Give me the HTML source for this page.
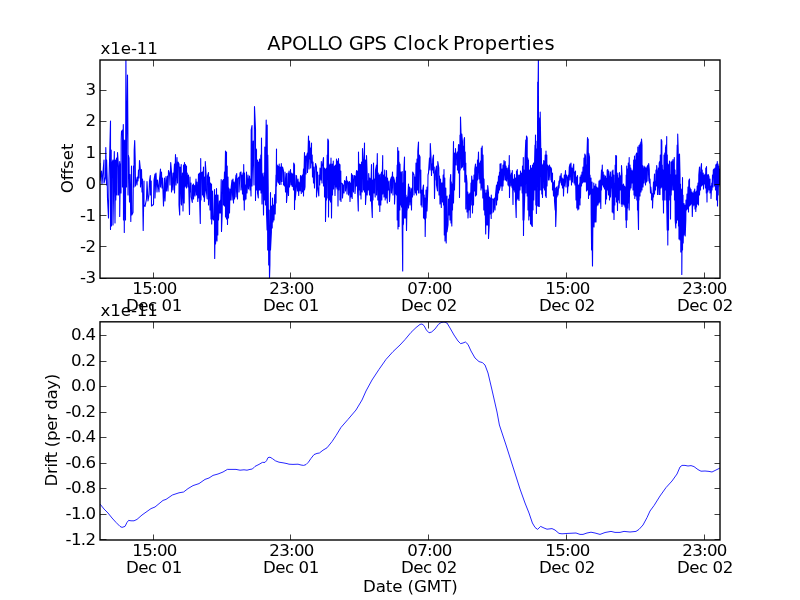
<!DOCTYPE html>
<html><head><meta charset="utf-8"><title>APOLLO GPS Clock Properties</title>
<style>html,body{margin:0;padding:0;background:#fff;overflow:hidden}svg{display:block;will-change:transform}text{font-family:"DejaVu Sans","Liberation Sans",sans-serif;fill:#000}.t{font-size:16.67px;letter-spacing:-0.45px}.n{font-size:16.67px;letter-spacing:-0.7px}.ti{font-size:19.44px}</style></head><body>
<svg width="800" height="600" viewBox="0 0 800 600">
<rect width="800" height="600" fill="#fff"/>
<defs><clipPath id="c1"><rect x="100" y="60" width="620" height="218.18"/></clipPath>
<clipPath id="c2"><rect x="100" y="321.82" width="620" height="218.18"/></clipPath></defs>
<path d="M100 163L100 181L101.5 171L102 184L104 160L104 183L105.5 177L105.8 147.5L106.5 185L106.6 160L107.2 180L107.5 198L108.5 218L109 180L109.7 155L110.5 121L110.5 229.5L111.2 150L111.5 226L112 163L113 160L113 225L114.3 151.5L115 223L115.5 160L115.8 200L116.5 158L117 195L117.5 152.5L118.5 167L118.5 195L119.7 161.5L119.7 216.5L120.5 164L121 193L121.2 140L121.5 131.5L122.5 130L122.5 187L123.3 124.5L123.5 220L124 140L124.3 232.5L124.6 149.5L125.2 140L125.5 220L125.9 55L126.5 187L126.6 143L127 124L127.5 75L127.9 130L128 195L128.3 155L129 158L129.5 202L130 174.5L130.8 221.5L131.5 166L131.8 215L133 212.5L133.5 166L134 187L134.2 150L134.7 140.5L135.2 160L135.5 186L135.7 177L137 185L137.5 177L138 181L138.5 170L139 178L139.5 160.5L140.5 171L140.5 187L141.5 169.5L142 192L142.5 179L142.8 205L143.2 230.5L143.6 205L144 181L144 205L145 206.5L146.5 199L147 181.5L148 201L149 195L149.5 181L150.3 175.5L150.5 195L151.2 181L151.5 206L153.5 204.5L154 180L155 174L155 198L156 173L157 192L157.5 180L159 192L159.5 179L160.5 169L160.5 187L161.5 172L162 188L162.5 178L163.5 206L164.5 178L165 201L166 176.5L166.5 191L167.5 176L168 191L168.5 170.5L169.5 174L170 185L170.7 162.5L171.5 172L171.5 192L173 173L173 190L174.5 164L174.5 193L175.5 154.5L176 185L177 157.5L177.5 183L178 162L179 164L179 205L179.7 215L180 167L180 170L180 204L181.2 164.5L181.5 205L182.5 173L183 211L183.5 165L184.2 203L184.5 162.5L185 187L185.5 164.5L186 186L186.5 166L186.5 188L187.2 173L188 187L188.5 175L188.8 189L189.5 214.5L190 177L190.2 192L191 183L191.2 197L192.3 202.5L192.5 185.5L193.5 184L193.5 199L194.5 185.5L195 196L196 179L196.5 195L197 182L197.8 201.5L198.5 174L199 198L199.5 173L199.7 203L200.3 223.5L200.7 158.5L201 200L201.5 173L202.5 172L202.5 195L203.5 167L203.5 197L204.3 177L204.3 201.5L205.2 190L205.3 161.5L206.2 176L206.2 190L207.2 199L207.5 176L208.5 172.5L208.5 205L209.5 177L210 210L210.5 183L211 219L211.5 184L211.7 224L212.5 191L212.5 218L213.5 220L214.5 189.5L214.5 233L214.7 258.5L215.5 195L215.5 244L216.2 236L216.5 188.5L217 241L217.2 195L217.8 235L218 195L218.5 220L219.5 201L219.5 213L220.5 200L220.5 213L221 190L221.2 179.5L221.5 231.5L222.2 213L222.5 181L223.5 179.5L223.5 205L224.5 172L224.5 206L225.5 151L225.5 217L226.5 152L226.5 219L227.2 166L227.5 224.5L228 177L228.5 218L228.7 188L229.5 213L230 189L230.5 200L231.2 187L232 180L232 200L233 179L233.5 203L234 182L234.5 199L235 185L236 175L236 197L236.7 173.5L237.5 199L237.8 179L239 177L239 192L240 173L241 172L241 190L242 175L242.5 194L243 173L243.5 200L243.7 164.5L244.3 210L244.5 173L245 200L245.5 185L246 199L246.5 172L247 193L248 175L248.5 189L249.5 176L250 190L250.5 179L251 196L251.2 130L252 125.5L252 186L253.2 141L254 185L254.5 106.5L255.5 129.5L255.5 200.5L256.2 149L256.5 150L256.5 190L257.5 160L257.5 193L258.3 198L258.5 162L259 190L259.5 159L260 160L260 188L260 160L260 190L260.8 155L261 193L261.5 138L262 204L262.2 173L263 178L263.5 215L264 173L264.5 200L264.8 147L265.5 205L265.8 146L266.2 120L266.5 213L267.1 230L267.2 125L267.7 250L267.8 155L268.2 187L268.7 265L269 210L269.5 278.5L269.9 265L270.5 192.5L270.5 250L271.4 232L271.5 206L272.2 228L272.5 198L273 222L273.5 205L274 220L274.7 194.5L275.2 214L275.5 198L276 175L276 203L276.5 149L276.5 186L277.2 165L277.2 182L278 166L278.5 183L279.2 164L279.5 184.5L280.2 167L281 184.5L281.3 163.5L282 181.5L282.5 167L283.5 171L283.5 184.5L284.5 186L285 172L285.5 192L286.5 173.5L286.5 202.5L287.5 190L288 173L288.5 195.5L289 171L289.5 187L290.5 169.5L291 185L291.8 173L292.2 186.5L292.8 174L293.5 190L293.7 163L294.5 165L294.5 209.5L295 175L295.2 200L296 191L296.5 175.5L297.5 191L298 179L298.7 195.5L299 182L300 191L300.5 175.5L301.3 193.5L301.5 177L302.5 175L302.5 192L303.5 169L303.5 196L304.5 152.5L304.5 190L305 187L305.5 156L306 174L306.5 156.5L307.5 153L307.5 172.5L308.5 136L309 169L309.5 141L310 159L310.5 148L310.7 168L311.5 143L311.5 163L312.2 155L312.5 177L313 162L313.5 183L314 167L314.5 188L315.5 163.5L316.5 167L316.5 197L317.5 172L317.5 186L318.8 196L319 175L319.7 185L320 168L321 180L321.3 161.5L322 183L322.2 167L323.5 157.5L323.5 186L324.5 168L324.5 197L325.5 169L325.5 221.5L326.5 168L326.5 200L327.2 155L327.2 198L327.8 139L328.5 141L328.5 217L329 165L329.5 200L330 164L330.5 202L331 158L331.5 218L332.2 164L332.5 195L333.3 161L333.5 189L334.5 166L335 195.5L335.5 165L336 187L336.5 159L337 189L337.5 161L338 206L338.5 158.5L338.8 190L339.5 164L340 165L340 186L340 170L340 200L340.8 171L341 201.5L341.2 183L342.5 184L342.5 198L343.5 185L344 193L344.5 180.5L345.5 182L345.5 191L346.5 176.5L347 194L347.5 181L348.5 183L348.5 195L349.5 181.5L350 201.5L350.5 183L351 197L351.5 173.5L352.2 198.5L352.5 175L353.5 192L354 175.5L355 176L355 193.5L356.5 170.5L356.5 186L357.5 171L357.5 190L358.3 211L358.5 152L359 190L359.5 164L360 195L360.5 164.5L361 199L361.5 162L362.2 192L362.5 148.5L363.3 165L363.5 190L363.8 175L364.5 143L364.5 192L365.5 160L365.5 204.5L366.2 193L366.5 155.5L367.2 175L367.2 195L367.8 181L368.5 190L368.7 173.5L369.5 195L369.7 178L370.5 180L370.5 201L371.5 164.5L371.5 202L372.3 217.5L372.5 180L373 200L373.5 163L374 193L374.5 179L375.2 197L375.5 170L376.5 165L376.5 195L377.3 153.5L377.8 200L378.2 173L378.8 205L379.2 175L379.8 211.5L380.2 174L380.8 205L381.5 172L381.8 200L382.7 155.5L382.8 194L383.7 175L384 197L384.7 170L385.2 200L385.5 177L386.2 198L386.5 170.5L387.3 203L387.5 178L388.3 190L389 181L389.5 201.5L390.3 190L390.5 180L391.5 177L391.5 193L392.5 172L393 195L393.5 177L394.5 181L394.5 204L395.5 183L395.5 194L396.5 177L396.5 195L397.2 165L397.2 220L397.7 147.5L398 229L398.7 151L399 226.5L399.2 162L399.8 210L400 164L400.5 205L401 172L401.5 207L402.2 171.5L402.2 225L402.7 271L403 183L403.2 225L403.5 223L403.7 175L404.5 157L404.5 218L405.5 171L405.5 218L406 195L406.5 230.5L407.2 197L407.2 210L408.5 184L408.5 208L409.5 187L410 205L411 188L411.5 210L411.8 189L412.5 197L412.7 172L414 175L414 195L414.8 177L415.5 193L416 163L416.5 195L417 159L417.5 190L417.8 151L418.5 142L418.5 193L419.2 155L420 157L420 188L420 167L420 193L420.8 170L421 205L421.5 190L422 207L422.5 191L423.5 185L423.5 218L424.2 195L424.5 219L425 198L425.2 236.5L426 190L426 218L427 187L427 211L427.8 190L428 175L428.5 173L429 165L429.5 158L430 170L430.3 143.5L431.2 161L431.5 175.5L432 164L432.5 170L432.7 159L433.5 155L433.5 173L434.2 167L434.5 198.5L435 175L435.2 180L435.5 171L436.5 166L436.5 185L437.5 191L437.8 161.5L438.8 168L439 195L439.5 176L440 204L440.5 179L441.3 207.5L441.5 183L442.5 183L442.5 202L443.2 175L443.5 205L444 169.5L444.3 235L444.8 178L445 241L445.8 188L446.2 243L447 196L447 232L448 225L448.5 199L449 215L449.5 195L450 220L450.2 180L450.7 174.5L451 223L451.3 182L451.8 226L452.2 184L452.5 210L453 175L453.5 141.5L453.5 203L454.5 153L454.5 190L455 168.5L455.5 148.5L456.2 165L456.5 155L457.5 152L457.5 170L458.5 144.5L458.5 173L459.3 145L459.5 197.5L460 135L460.2 170L460.5 117L461 133L461.5 168L461.8 134L462.5 142L462.5 167L463.5 146L463.8 170L464 140L464.5 137.5L464.8 182L465.2 152L465.5 180L465.8 163L465.8 209L466.3 175L467 183L467 212L467.8 192L468 218L469 194L469 210L470 193L470.2 217.5L471 183L471.2 205L471.7 176L472.3 185L472.5 213L473 180L473.5 205L474 175L474.5 191L474.8 169L475.5 164L475.5 196L476.5 167L476.5 195L477.5 160L477.5 180L478.5 152L479 179L479.5 163L480 183L480.5 161L481 190L481.3 148L482 188L482.2 146L482.8 198L483 155L483.3 175L483.8 210L484 179L484.8 215L485 190L485.7 234L486 193L486.5 225L486.8 190L487.5 225L487.7 185.5L488.5 193L488.5 238.5L489.2 225L489.5 197L490 214L490.5 198L491.2 218.5L491.3 195L492 213L492.2 199L493.5 199L493.5 212L494.5 198L495 210L495.5 195L496.5 185L496.5 205L497.5 182L497.5 200L498.5 176L498.5 193L499.5 172L499.5 190L500 171L500 188L500 164L500 186L501 163.5L501 186L502 169L502 190.5L503 165L503 186L504 160.5L504 180L505.2 161.5L505.5 180L506 166L506.5 181L507.2 168L508 185L508.2 173L508.8 165L508.8 186L509.3 155.5L509.5 197.5L509.8 170L510.3 186L510.5 178L511.5 173L511.5 185L512.2 188L512.3 170.5L513 204.5L513.2 179L513.8 190L514.5 174.5L514.8 192L515.5 178L515.5 200L516.2 217.5L516.5 171L516.8 200L517.3 169.5L518 199L518.3 175L519 200.5L519.5 175L520 190L520.5 171L521 186L521.5 173L522.2 193L522.5 166L523 220L523.3 157.5L523.5 235.5L524 170L524 220L524.8 193L525 160L525.8 140L526 193L526.5 136L527.2 138L527.2 196L527.8 158L528 210L528.5 160L528.8 220L529.5 170L529.5 216L530.5 165.5L530.5 224L531.5 168L531.5 225L532.3 226.5L532.5 165L533 210L533.5 163L533.8 200L534.5 165L535 145L535 190L535.5 135L535.8 205L536 141L536.4 213.5L536.7 149L537.1 205L537.3 206L537.5 148L537.7 82L538 96L538.4 57L538.5 206.2L539 120L539.3 206.5L539.6 118L539.7 190L540.2 112L540.7 145L541 190L541.3 148.5L541.8 194L542 165L542.5 197.5L543 164L543.3 188L543.7 160.5L544.5 163L544.5 190L545.2 155L545.5 196L546 151L546.2 197.5L546.8 155L547 186L547.5 165L548.5 167L548.5 180L549.5 165L550 180L550.5 167L551.5 169L551.5 182L552.5 173L552.5 190L553 182L553.5 196L553.8 185L554.5 180.5L554.5 201L555.2 210L555.3 188L555.7 226.5L556.3 210L556.5 187L557 197L558 186L558 195L559 181L559 188L560 176L560 183L561.2 173.5L561.5 185L562.2 178L562.5 188L563.2 179L563.5 196L564.3 175L564.5 186L565.5 170.5L566 187L566.5 175L567.5 178L567.5 193L568.5 175L568.5 186L569.3 167L570 164L570 180L571 163L571.5 185L571.8 168L572.5 182L572.8 169L573.7 164L574 183L574.5 172L575 185L575.5 171L576 200L576.5 177L576.8 208L577.5 175.5L577.8 210L578.3 185L578.8 209L579 185L579.5 200L579.7 183L580 184L580 205L580 177L580 192L580.5 198L581 175L581.5 186L582 172L582.5 183L583 167L583.5 182L584 158L584.5 182L584.8 154L585.5 156L585.5 182L586.2 165L586.5 191L586.8 160L587.5 137.5L587.5 190L588.2 139L588.5 198.5L588.7 153L589.5 157L589.5 195L590 175L590.5 194L591 178L591.2 215L591.6 250L592 182L592 230L592.5 266L592.8 230L593 189L593 226L593.8 183L594 227L594.8 186L595 222L595.8 184L596 222L596.8 187L596.8 206L597.8 188L598 205L599 181L599 203L599.8 200L600 180L600.8 208.5L601 180L601.5 170L601.5 190L602.3 165L602.5 185L603.2 172L603.5 187L604.2 175L604.5 189L605.5 176L605.5 204L606.5 178L606.5 199L607.2 170L607.5 190L607.8 169.5L608.5 195L608.7 171L609.5 179L609.5 200L610.5 172L610.5 197L611.5 177L611.5 188L612.2 171L612.2 212L613 170L613.2 213L613.8 175L614 219.5L614.5 183L614.8 205L615.2 165L615.5 197L615.7 155.5L616.5 156L616.5 202L617 175L617.5 210.5L617.8 173L618.3 200L618.7 178L619.3 203L619.5 172.5L620.3 190L620.5 178L621 175L621.3 204L621.5 165.5L622 175L622 206.5L622.7 185L623 204L623.5 184L624 205L624.5 186L625 207L625.5 187L625.8 220L626.2 175L626.3 227.5L626.7 166L627 220L627.5 169L627.8 208L628.3 163L628.5 203L629.2 157.5L629.2 210L630 165L630 190L630.8 168L631 188L632 170L632 183L633 171L633 190L633.7 160L634 195L634.5 156L634.8 198.5L635.3 160L635.8 196L636 155L636.7 153L636.8 200L637.3 157L637.5 210L637.8 147L638 209L638.5 229.5L639 145.5L639 200L640 144L640 196L640.8 142L641 192L641.5 139L642 145L642 190L642.3 165L643 170L643 187L644 166L644 183L645 167L645.5 185L646 168L646.5 182L647 167L648 165L648 181L648.7 163.5L649.3 170L649.5 183L650 179L650.5 193L650.8 187L651.5 194L651.5 200L652.5 193.5L652.5 208L653.5 182L653.5 197L654.5 174L654.5 194L655.3 181L655.5 190L656 170L656.5 186L656.7 165.5L657.5 173L657.5 194.5L658.5 168L659 194.5L659.2 163L660 161L660 194.5L660.3 155L661 188L661.2 139.5L661.8 141L662 187L662.3 165L662.8 200L663 170L663.5 213L664 155L664.3 200L664.8 153L665 190L665.5 148L666 145L666 200L666.7 136.5L666.7 203L667.2 230L667.3 155L667.8 245L668 164L668.5 230L668.7 165L669 195L669.5 161L669.8 200L670.3 175L670.5 219L671 162L671.2 195L672 161L672.2 190L673 159.5L673.5 190L674.3 157.5L674.5 200L675 170L675.2 220L675.8 228L676 175L676.5 223L676.8 165L677.2 145L677.5 220L677.7 134L678.2 150L678.5 226L678.8 155L679 239L679.5 154L680 175L680 240L680.5 184L680.8 252L681.2 189L681.8 195L681.8 274.5L682.5 177.5L682.5 250L683 195L683.2 243L684 203.5L684 235L685 205L685.2 236L685.8 220L686 200L686.5 210L687 194L687.5 209L688 187L688.5 212L688.8 181L689.5 179L689.5 206L690.2 188L690.5 205L691 189.5L691.5 204L692 192L692.3 216.5L693 193L693 206L694 191L694 205L694.7 189L695 209L695.5 192L695.8 211.5L696.5 191L696.5 207L697.2 186L697.5 204L698 183L698.5 205L698.8 175L699.5 167L699.5 195L700.3 172L700.5 190L700.8 169L701.5 163.5L701.5 186L702.2 170L702.5 185L703.2 173L703.5 189L704.2 175L704.5 184L705.2 174L705.5 188L705.8 168L706.3 193L706.5 166.5L707 202L707.2 175L707.8 192L708.2 174.5L709 177L709 190L710 179L710 193L711 186L711 198.5L711.8 183L712 190L712.5 175L713 187L713.3 170L714 169L714.5 186L715 168L715.5 190L715.8 165L716.5 164L716.5 200L717.3 161.5L717.5 206L718 164L718.2 195L718.8 166L719 186L719.5 169L720 175L720 185" fill="none" stroke="#0000ff" stroke-width="1.1" stroke-linejoin="round" clip-path="url(#c1)"/>
<path d="M100 504L104 509L108 513L112 518L116 522.4L120 526.4L122 527.4L125 526.4L127 522.4L128.6 520.4L131 520.8L134 520.8L137 519.4L142 515L151 508.6L155 507L163 500.4L166 499.4L172.4 495L179 492.8L183.6 492L188 488.6L193 485.6L199 483.6L205 479.4L209 478L213 475.4L218 474L223 472L227.4 469.4L236 469.4L240 470.2L244 469.8L247 470.2L250 469.4L252.4 469L255 466.4L259 464.4L262.4 462.4L265 462.4L266.6 460.6L268 457.6L270 457.2L272.4 458.6L275.4 460.8L279 462.2L283 462.8L287 463.6L289 464.2L293 464.4L298 464.2L301 465L303.6 465.4L306 464.6L308.4 462.2L311 458.4L314 454.6L317 453.4L319.4 453L323 450.2L327 447.8L332 441.6L336 435.6L341 427.4L348 419.4L356 410L362 400L366 391L372 380L379 369.4L386 359.4L393 351.6L400 345L405 339.6L411 332.4L416 327.6L420 324.4L422 324L424 325.6L426.4 330L429 332.8L431.6 332L435 329L438.4 324.4L441 322.6L444 322L447 323L450 328L454 335L458 341L460.6 343.6L463 343L465.4 342L468 344.4L471 351L475 358L479 361.6L482.4 362.6L485 365L488 373L492 390L497 412L499.4 425L506 445L513 467L520 489L525 503L529 513L532.4 523L535 527.4L537.6 529.4L540.6 526.4L544 528L547 529.2L552 528.6L555 530L559 533.4L562 533.8L568 533.4L576 533L580 534.4L583 534.4L587 533L591 532.2L595 533L600 534.4L605 532.5L611 531.4L615 532.4L620 532.4L624 531.4L630 532L636 531.4L639 529.4L643 525L647 517.6L650 511L654 505.6L660 496L666 487.6L672 481L677 474L680 467L682 465.4L685 465.4L688 466L691 465.6L694 466.6L698 469.6L701 471.2L705 471L709 471.4L712 472L716 470L720 468" fill="none" stroke="#0000ff" stroke-width="0.85" stroke-linejoin="round" clip-path="url(#c2)"/>
<rect x="100" y="60" width="620" height="218.18" fill="none" stroke="#000" stroke-width="1.39"/>
<path d="M153.5 278 V272.5 M153.5 60 V66.5 M290.5 278 V272.5 M290.5 60 V66.5 M428.5 278 V272.5 M428.5 60 V66.5 M566.5 278 V272.5 M566.5 60 V66.5 M704.5 278 V272.5 M704.5 60 V66.5 M100 90.5 H106.5 M720 90.5 H714.5 M100 121.5 H106.5 M720 121.5 H714.5 M100 153.5 H106.5 M720 153.5 H714.5 M100 184.5 H106.5 M720 184.5 H714.5 M100 215.5 H106.5 M720 215.5 H714.5 M100 246.5 H106.5 M720 246.5 H714.5 M100 278.5 H106.5 M720 278.5 H714.5" stroke="#000" stroke-width="0.75" fill="none"/>
<text class="n" x="95.3" y="95.1" text-anchor="end">3</text>
<text class="n" x="95.3" y="126.0" text-anchor="end">2</text>
<text class="n" x="95.3" y="157.9" text-anchor="end">1</text>
<text class="n" x="95.3" y="189.4" text-anchor="end">0</text>
<text class="n" x="95.3" y="220.5" text-anchor="end">-1</text>
<text class="n" x="95.3" y="251.5" text-anchor="end">-2</text>
<text class="n" x="95.3" y="282.9" text-anchor="end">-3</text>
<text class="n" x="154.5" y="293.9" text-anchor="middle">15:00</text>
<text class="t" x="153.9" y="310.9" text-anchor="middle">Dec 01</text>
<text class="n" x="291.5" y="293.9" text-anchor="middle">23:00</text>
<text class="t" x="290.9" y="310.9" text-anchor="middle">Dec 01</text>
<text class="n" x="429.5" y="293.9" text-anchor="middle">07:00</text>
<text class="t" x="428.9" y="310.9" text-anchor="middle">Dec 02</text>
<text class="n" x="567.5" y="293.9" text-anchor="middle">15:00</text>
<text class="t" x="566.9" y="310.9" text-anchor="middle">Dec 02</text>
<text class="n" x="704.5" y="293.9" text-anchor="middle">23:00</text>
<text class="t" x="704.9" y="310.9" text-anchor="middle">Dec 02</text>
<text class="t" style="letter-spacing:-0.1px" x="100.5" y="53.8">x1e-11</text>
<text class="t" style="letter-spacing:-0.1px" transform="translate(73 168.4) rotate(-90)" text-anchor="middle">Offset</text>
<rect x="100" y="321.82" width="620" height="218.18" fill="none" stroke="#000" stroke-width="1.39"/>
<path d="M153.5 540 V534.5 M153.5 322 V328.5 M290.5 540 V534.5 M290.5 322 V328.5 M428.5 540 V534.5 M428.5 322 V328.5 M566.5 540 V534.5 M566.5 322 V328.5 M704.5 540 V534.5 M704.5 322 V328.5 M100 335.5 H106.5 M720 335.5 H714.5 M100 361.5 H106.5 M720 361.5 H714.5 M100 386.5 H106.5 M720 386.5 H714.5 M100 412.5 H106.5 M720 412.5 H714.5 M100 437.5 H106.5 M720 437.5 H714.5 M100 463.5 H106.5 M720 463.5 H714.5 M100 488.5 H106.5 M720 488.5 H714.5 M100 514.5 H106.5 M720 514.5 H714.5 M100 539.5 H106.5 M720 539.5 H714.5" stroke="#000" stroke-width="0.75" fill="none"/>
<text class="n" x="95.3" y="340.1" text-anchor="end">0.4</text>
<text class="n" x="95.3" y="365.6" text-anchor="end">0.2</text>
<text class="n" x="95.3" y="391.2" text-anchor="end">0.0</text>
<text class="n" x="95.3" y="416.8" text-anchor="end">-0.2</text>
<text class="n" x="95.3" y="442.3" text-anchor="end">-0.4</text>
<text class="n" x="95.3" y="467.9" text-anchor="end">-0.6</text>
<text class="n" x="95.3" y="493.4" text-anchor="end">-0.8</text>
<text class="n" x="95.3" y="519.0" text-anchor="end">-1.0</text>
<text class="n" x="95.3" y="544.5" text-anchor="end">-1.2</text>
<text class="n" x="154.5" y="555.9" text-anchor="middle">15:00</text>
<text class="t" x="153.9" y="572.9" text-anchor="middle">Dec 01</text>
<text class="n" x="291.5" y="555.9" text-anchor="middle">23:00</text>
<text class="t" x="290.9" y="572.9" text-anchor="middle">Dec 01</text>
<text class="n" x="429.5" y="555.9" text-anchor="middle">07:00</text>
<text class="t" x="428.9" y="572.9" text-anchor="middle">Dec 02</text>
<text class="n" x="567.5" y="555.9" text-anchor="middle">15:00</text>
<text class="t" x="566.9" y="572.9" text-anchor="middle">Dec 02</text>
<text class="n" x="704.5" y="555.9" text-anchor="middle">23:00</text>
<text class="t" x="704.9" y="572.9" text-anchor="middle">Dec 02</text>
<text class="t" style="letter-spacing:-0.1px" x="100.5" y="315.8">x1e-11</text>
<text class="t" style="letter-spacing:-0.4px" transform="translate(57 430.3) rotate(-90)" text-anchor="middle">Drift (per day)</text>
<text class="ti" y="49.8"><tspan x="267.3" style="letter-spacing:-0.2px">APOLLO</tspan> <tspan x="348.7" style="letter-spacing:-0.45px">GPS</tspan> <tspan x="393.3" style="letter-spacing:0.65px">Clock</tspan> <tspan x="452.9" style="letter-spacing:0.38px">Properties</tspan></text>
<text class="t" style="letter-spacing:-0.1px" x="410.3" y="591.6" text-anchor="middle">Date (GMT)</text>
</svg></body></html>
